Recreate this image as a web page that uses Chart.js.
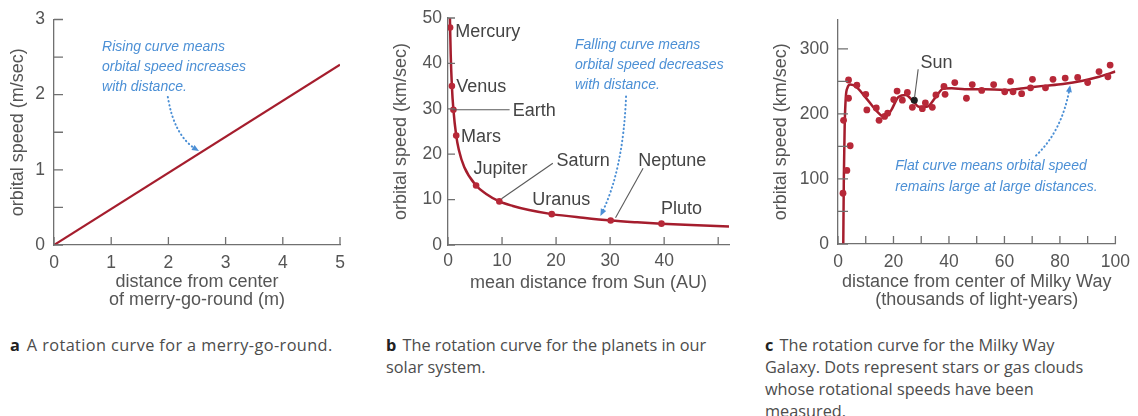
<!DOCTYPE html>
<html>
<head>
<meta charset="utf-8">
<script src="https://cdn.jsdelivr.net/npm/chart.js@4"></script>
<style>
html, body { margin: 0; padding: 0; background: #fff; }
body { width: 1138px; height: 416px; position: relative; overflow: hidden; }
.box { position: absolute; top: 0; }
.cap { position: absolute; top: 334px; font-family: "Open Sans", Lato, sans-serif; font-size: 16.3px; line-height: 22px; color: #4c4c4c; white-space: nowrap; }
.cap b { color: #222; margin-right: 2px; }
</style>
</head>
<body>
<div class="box" style="left:0"><canvas id="chartA" width="360" height="310"></canvas></div>
<div class="box" style="left:370px"><canvas id="chartB" width="380" height="310"></canvas></div>
<div class="box" style="left:760px"><canvas id="chartC" width="378" height="310"></canvas></div>

<div class="cap" style="left:10px; letter-spacing:0.4px"><b>a</b> A rotation curve for a merry-go-round.</div>
<div class="cap" style="left:386px"><b>b</b> The rotation curve for the planets in our<br>solar system.</div>
<div class="cap" style="left:765px"><b>c</b> The rotation curve for the Milky Way<br>Galaxy. Dots represent stars or gas clouds<br>whose rotational speeds have been<br>measured.</div>

<script>
// chart a - merry-go-round
const aDist = [0, 5];
const aSpeed = [0, 2.4];
const aXMarks = [0, 1, 2, 3, 4, 5];
const aYMarks = [0, 0.5, 1, 1.5, 2, 2.5, 3];
const aNote = ['Rising curve means', 'orbital speed increases', 'with distance.'];

// chart b - planets
const planetNames = ['Mercury', 'Venus', 'Earth', 'Mars', 'Jupiter', 'Saturn', 'Uranus', 'Neptune', 'Pluto'];
const planetDist = [0.39, 0.72, 1.0, 1.52, 5.2, 9.5, 19.2, 30.1, 39.5];
const planetSpeed = [47.9, 35.0, 29.8, 24.1, 13.1, 9.6, 6.8, 5.4, 4.7];
const planetLabelAt = [[1.35, 47.0], [1.53, 34.8], [12.0, 29.55], [2.4, 23.75], [4.73, 16.7], [20.1, 18.5], [15.6, 9.9], [35.2, 18.5], [39.4, 7.9]];
const bCurveDist = [0.36, 0.39, 0.5, 0.72, 1.0, 1.52, 2, 3, 5.2, 7, 9.5, 12, 15, 19.2, 25, 30.1, 35, 39.5, 45, 52];
const bCurveSpeed = [50, 47.9, 42, 35, 29.8, 24.1, 21, 17.2, 13.1, 11.3, 9.6, 8.6, 7.7, 6.8, 6.0, 5.4, 5.0, 4.7, 4.4, 4.1];
const bXMarks = [0, 10, 20, 30, 40, 50];
const bYMarks = [0, 10, 20, 30, 40, 50];
const bNote = ['Falling curve means', 'orbital speed decreases', 'with distance.'];

// chart c - Milky Way
const starDist = [2.0, 1.8, 3.2, 4.4, 3.8, 3.8, 6.8, 10.0, 10.4, 13.8, 14.8, 16.8, 17.9, 20.1, 21.3, 23.2, 25.0, 26.8, 30.4, 31.5, 34.0, 35.3, 38.2, 38.6, 42.1, 46.3, 48.4, 51.8, 56.1, 60.1, 62.2, 63.1, 66.2, 69.4, 70.1, 74.8, 77.5, 81.9, 86.4, 90.0, 94.1, 97.3, 98.1];
const starSpeed = [190, 78, 113, 151, 252, 224, 244, 230, 206, 209, 190, 196, 201, 222, 235, 221, 233, 210, 208, 217, 210, 229, 242, 230, 248, 224, 245, 236, 245, 234, 250, 234, 231, 240, 253, 240, 253, 255, 256, 248, 265, 257, 275];
const sunDist = [27.5];
const sunSpeed = [221];
const cCurveDist = [1.9, 2.1, 2.4, 2.8, 3.4, 4.5, 6.7, 10, 13.8, 16.8, 19.1, 21.8, 24.4, 26.8, 29.2, 32.1, 35.1, 38, 41, 45.7, 52.8, 59.9, 66.9, 74, 81.1, 88.2, 94.1, 100];
const cCurveSpeed = [0, 100, 180, 225, 240, 245, 241, 225, 205, 195, 205, 226, 229, 221, 211, 211, 225, 239, 239.5, 238, 238, 236.5, 239.5, 243, 246, 251, 257, 265];
const cXMarks = [0, 10, 20, 30, 40, 50, 60, 70, 80, 90, 100];
const cYMarks = [0, 50, 100, 150, 200, 250, 300];
const cNote = ['Flat curve means orbital speed', 'remains large at large distances.'];

const axisColor = '#707070';
const inkColor = '#555555';
const redLine = '#a51d2d';
const redDot = '#b72838';
const blue = '#4b8fd5';
const noteFont = 'italic 14px "Liberation Sans", Arial, sans-serif';
const nameFont = '18px "Liberation Sans", Arial, sans-serif';

Chart.defaults.font.family = '"Liberation Sans", Arial, sans-serif';
Chart.defaults.color = inkColor;

const pts = (xs, ys) => xs.map((x, i) => ({x: x, y: ys[i]}));

// tick marks inside the axes, leader lines, dotted arrows and labels
const notes = {
    id: 'notes',
    afterDatasetsDraw(chart, args, o) {
        const ctx = chart.ctx;
        const ca = chart.chartArea;
        const xs = chart.scales.x, ys = chart.scales.y;
        const P = p => [xs.getPixelForValue(p[0]), ys.getPixelForValue(p[1])];
        ctx.save();
        ctx.strokeStyle = axisColor;
        ctx.lineWidth = 1.3;
        ctx.beginPath();
        (o.xMarks || []).forEach(v => {
            const X = xs.getPixelForValue(v);
            ctx.moveTo(X, ca.bottom);
            ctx.lineTo(X, ca.bottom - o.xLen);
        });
        (o.yMarks || []).forEach(v => {
            const Y = ys.getPixelForValue(v);
            ctx.moveTo(ca.left, Y);
            ctx.lineTo(ca.left + o.yLen, Y);
        });
        ctx.stroke();

        ctx.strokeStyle = '#5a5a5a';
        ctx.lineWidth = 1.1;
        (o.leaders || []).forEach(l => {
            const a = P(l[0]), b = P(l[1]);
            ctx.beginPath();
            ctx.moveTo(a[0], a[1]);
            ctx.lineTo(b[0], b[1]);
            ctx.stroke();
        });

        (o.arrows || []).forEach(ar => {
            const s = P(ar[0]), c = P(ar[1]), e = P(ar[2]);
            ctx.strokeStyle = blue;
            ctx.fillStyle = blue;
            ctx.lineWidth = 2;
            ctx.lineCap = 'round';
            ctx.setLineDash([0.5, 3.5]);
            ctx.beginPath();
            ctx.moveTo(s[0], s[1]);
            ctx.quadraticCurveTo(c[0], c[1], e[0], e[1]);
            ctx.stroke();
            ctx.setLineDash([]);
            const ang = Math.atan2(e[1] - c[1], e[0] - c[0]);
            ctx.beginPath();
            ctx.moveTo(e[0] + 3 * Math.cos(ang), e[1] + 3 * Math.sin(ang));
            ctx.lineTo(e[0] + 5 * Math.cos(ang + 2.5), e[1] + 5 * Math.sin(ang + 2.5));
            ctx.lineTo(e[0] + 5 * Math.cos(ang - 2.5), e[1] + 5 * Math.sin(ang - 2.5));
            ctx.closePath();
            ctx.fill();
        });

        ctx.textAlign = 'left';
        ctx.textBaseline = 'middle';
        (o.texts || []).forEach(t => {
            ctx.font = t.font;
            ctx.fillStyle = t.color;
            const p = P(t.at);
            t.lines.forEach((s, i) => ctx.fillText(s, p[0], p[1] + i * (t.gap || 0)));
        });
        ctx.restore();
    }
};

function axis(opts) {
    return {
        type: 'linear',
        min: opts.min,
        max: opts.max,
        afterFit: opts.fit,
        grid: {drawOnChartArea: false, drawTicks: false},
        border: {display: true, color: axisColor, width: 1.3},
        ticks: {
            stepSize: opts.step,
            padding: opts.pad,
            autoSkip: false,
            maxRotation: 0,
            color: inkColor,
            font: {size: 17.5},
            callback: v => (Math.abs(v / opts.label - Math.round(v / opts.label)) < 1e-6 ? v : '')
        },
        title: {
            display: true,
            text: opts.title,
            color: inkColor,
            font: {size: 18, lineHeight: 1.0},
            padding: opts.titlePad
        }
    };
}

function makeChart(id, datasets, scales, pad, noteOpts) {
    return new Chart(document.getElementById(id), {
        type: 'scatter',
        data: {datasets: datasets},
        options: {
            responsive: false,
            animation: false,
            events: [],
            layout: {padding: pad},
            plugins: {legend: {display: false}, tooltip: {enabled: false}, notes: noteOpts},
            scales: scales
        },
        plugins: [notes]
    });
}

// a
makeChart('chartA', [{
    data: pts(aDist, aSpeed), showLine: true, borderColor: redLine, borderWidth: 2.2, pointRadius: 0
}], {
    x: axis({min: 0, max: 5, step: 1, label: 1, pad: 8, fit: s => { s.height = 65; },
        title: ['distance from center', 'of merry-go-round (m)'], titlePad: {top: 0, bottom: 1}}),
    y: axis({min: 0, max: 3, step: 0.5, label: 1, pad: 9, fit: s => { s.width = 54; },
        title: 'orbital speed (m/sec)', titlePad: {top: 9, bottom: 0}})
}, {top: 19, right: 20, left: 0, bottom: 0}, {
    xMarks: aXMarks, xLen: 8, yMarks: aYMarks, yLen: 9,
    arrows: [[[1.99, 1.97], [2.1, 1.45], [2.49, 1.27]]],
    texts: [{at: [0.84, 2.63], lines: aNote, gap: 20, font: noteFont, color: blue}]
});

// b
const planetTexts = planetNames.map((n, i) => ({at: planetLabelAt[i], lines: [n], font: nameFont, color: '#444'}));
planetTexts.push({at: [23.5, 44.0], lines: bNote, gap: 20, font: noteFont, color: blue});
makeChart('chartB', [{
    data: pts(planetDist, planetSpeed), showLine: false, pointRadius: 3.3, pointBackgroundColor: redDot, pointBorderWidth: 0
}, {
    data: pts(bCurveDist, bCurveSpeed), showLine: true, borderColor: redLine, borderWidth: 2.5, pointRadius: 0,
    cubicInterpolationMode: 'monotone'
}], {
    x: axis({min: 0, max: 52, step: 10, label: 10, pad: 6, fit: s => { s.height = 65; },
        title: 'mean distance from Sun (AU)', titlePad: {top: 0, bottom: 18}}),
    y: axis({min: 0, max: 50, step: 10, label: 10, pad: 6, fit: s => { s.width = 78; },
        title: 'orbital speed (km/sec)', titlePad: {top: 22, bottom: 0}})
}, {top: 18, right: 21, left: 0, bottom: 0}, {
    xMarks: bXMarks, xLen: 8, yMarks: bYMarks, yLen: 7,
    leaders: [[[1.0, 29.8], [11.4, 29.8]], [[19.4, 18.0], [9.9, 10.2]], [[36.1, 16.9], [31.0, 6.0]]],
    arrows: [[[32.95, 32.7], [32.4, 16.5], [28.45, 7.0]]],
    texts: planetTexts
});

// c
makeChart('chartC', [{
    data: pts(sunDist, sunSpeed), showLine: false, pointRadius: 3.5, pointBackgroundColor: '#1e1e1e', pointBorderWidth: 0
}, {
    data: pts(starDist, starSpeed), showLine: false, pointRadius: 3.4, pointBackgroundColor: redDot, pointBorderWidth: 0
}, {
    data: pts(cCurveDist, cCurveSpeed), showLine: true, borderColor: redLine, borderWidth: 2.5, pointRadius: 0,
    cubicInterpolationMode: 'monotone'
}], {
    x: axis({min: 0, max: 100, step: 20, label: 20, pad: 8, fit: s => { s.height = 66; },
        title: ['distance from center of Milky Way', '(thousands of light-years)'], titlePad: {top: 0, bottom: 1}}),
    y: axis({min: 0, max: 345, step: 50, label: 100, pad: 9, fit: s => { s.width = 78; },
        title: 'orbital speed (km/sec)', titlePad: {top: 12, bottom: 0}})
}, {top: 18, right: 18, left: 0, bottom: 0}, {
    xMarks: cXMarks, xLen: 8, yMarks: cYMarks, yLen: 10,
    leaders: [[[28.9, 268.5], [27.6, 225]]],
    arrows: [[[71.4, 136], [80.8, 174], [83.5, 239.5]]],
    texts: [
        {at: [29.75, 278.6], lines: ['Sun'], font: nameFont, color: '#444'},
        {at: [20.65, 119.2], lines: cNote, gap: 20.7, font: noteFont, color: blue}
    ]
});
</script>
</body>
</html>
